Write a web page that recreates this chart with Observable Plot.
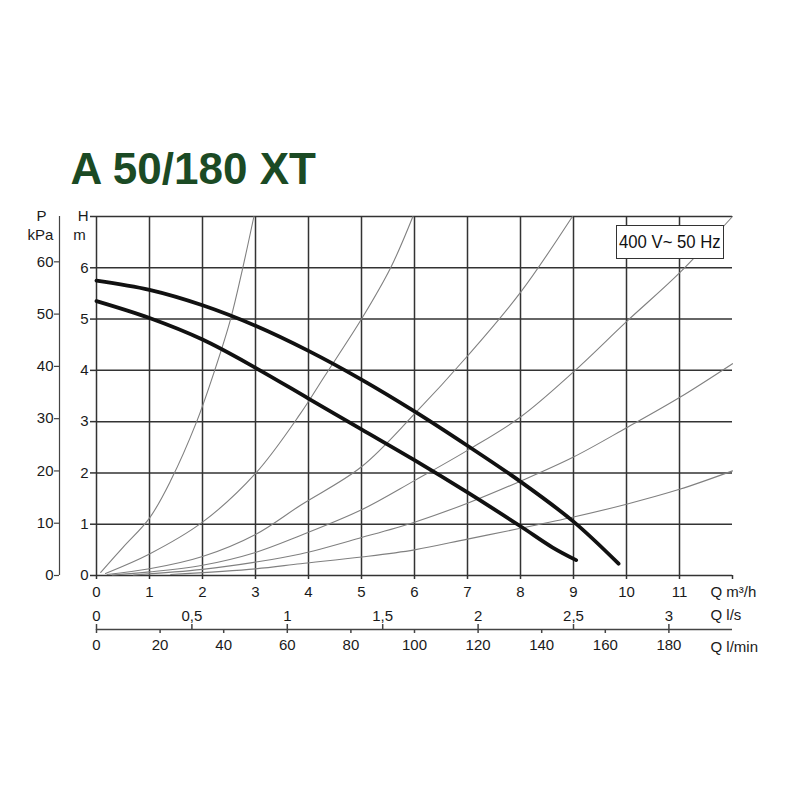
<!DOCTYPE html>
<html>
<head>
<meta charset="utf-8">
<script src="https://cdn.jsdelivr.net/npm/d3@7"></script>
<script src="https://cdn.jsdelivr.net/npm/@observablehq/plot@0.6"></script>
<style>
html,body{margin:0;padding:0;background:#fff;}
#wrap{position:relative;width:800px;height:800px;font-family:"Liberation Sans",Arial,sans-serif;}
#wrap svg{display:block;}
#legend{position:absolute;left:616px;top:225px;width:106px;height:32px;border:1.5px solid #333;background:#fff;display:flex;align-items:center;justify-content:center;}
#legend span{display:inline-block;font-size:19px;transform:scaleX(0.88);color:#111;white-space:nowrap;}
</style>
</head>
<body>
<div id="wrap"><div id="legend"><span id="legendText"></span></div></div>
<script>
// ---- texts ----
const titleText = "A 50/180 XT";
const legendText = "400 V~ 50 Hz";
const qUnitLabel = "Q m³/h";
const lsUnitLabel = "Q l/s";
const lminUnitLabel = "Q l/min";

// ---- ticks ----
const qTicks = [0,1,2,3,4,5,6,7,8,9,10,11,12];
const gridQ = [0,1,2,3,4,5,6,7,8,9,10,11];
const hTicks = [0,1,2,3,4,5,6,7];
const gridH = [0,1,2,3,4,5,6,7];
const pTicks = [0,10,20,30,40,50,60];
const lsTicks = [0,0.5,1,1.5,2,2.5,3];
const lminTicks = [0,20,40,60,80,100,120,140,160,180];

// ---- pump curves [Q m3/h, H m] ----
const pumpMax = [[0,5.75],[1,5.57],[2,5.27],[3,4.87],[4,4.38],[5,3.82],[6,3.2],[7,2.53],[8,1.83],[9,1.05],[9.85,0.23]];
const pumpMin = [[0,5.35],[1,5.02],[2,4.6],[3,4.05],[4,3.45],[5,2.85],[6,2.25],[7,1.62],[8,0.96],[8.6,0.55],[9.05,0.3]];

// ---- system curves [Q m3/h, H m] ----
const sys1 = [[0.08,0.06],[0.5,0.55],[1,1.12],[1.4,1.85],[1.89,3],[2.23,4],[2.53,5],[2.76,6],[2.97,7]];
const sys2 = [[0.17,0.04],[1,0.42],[2,1.04],[3,1.99],[3.85,3.16],[4.3,3.88],[5,5],[5.55,6],[5.97,7]];
const sys3 = [[0.2,0.02],[1,0.13],[2,0.37],[3,0.8],[3.85,1.37],[5,2.12],[6,3.15],[7,4.28],[8,5.52],[8.98,7]];
const sys4 = [[0.3,0.01],[1,0.07],[2,0.2],[3,0.45],[3.85,0.78],[5,1.28],[6,1.85],[7,2.44],[8,3.09],[9,3.97],[10,4.95],[11,5.9],[12,7]];
const sys5 = [[0.7,0.01],[2,0.12],[3,0.26],[3.85,0.42],[5,0.74],[6,1.04],[7,1.41],[8,1.84],[9,2.31],[10,2.88],[11,3.47],[12,4.13]];
const sys6 = [[1.4,0.02],[3,0.13],[3.85,0.23],[5,0.36],[6,0.5],[7,0.71],[8,0.92],[9,1.14],[10,1.39],[11,1.68],[12,2.04]];

const toRows = (name, pts) => pts.map(([q, h]) => ({curve: name, q, h}));
const pumpRows = [...toRows("max", pumpMax), ...toRows("min", pumpMin)];
const sysRows = [
  ...toRows("s1", sys1), ...toRows("s2", sys2), ...toRows("s3", sys3),
  ...toRows("s4", sys4), ...toRows("s5", sys5), ...toRows("s6", sys6)
];

const LS_TO_M3H = 3.6, LMIN_TO_M3H = 0.06, KPA_TO_M = 1 / 9.81;
const gridColor = "#333";
const fontSize = 15;

document.getElementById("legendText").textContent = legendText;

const chart = Plot.plot({
  width: 800,
  height: 800,
  marginLeft: 96,
  marginRight: 68,
  marginTop: 216,
  marginBottom: 225,
  x: {domain: [0, 12]},
  y: {domain: [0, 7]},
  style: {fontFamily: "Liberation Sans, Arial, sans-serif", fontSize: "15px", color: "#1a1a1a", background: "#fff"},
  marks: [
    // grid
    Plot.ruleX(gridQ, {stroke: gridColor, strokeWidth: 1.5}),
    Plot.ruleY(gridH, {stroke: gridColor, strokeWidth: 1.5}),
    // system curves
    Plot.line(sysRows, {x: "q", y: "h", z: "curve", stroke: "#808080", strokeWidth: 1.1, curve: "catmull-rom"}),
    // pump curves
    Plot.line(pumpRows, {x: "q", y: "h", z: "curve", stroke: "#111", strokeWidth: 3.8, curve: "catmull-rom", strokeLinecap: "round"}),
    // primary x axis (m3/h)
    Plot.axisX(qTicks, {anchor: "bottom", tickSize: 4, tickPadding: 7, fontSize, stroke: gridColor, strokeWidth: 1.5,
      tickFormat: d => d === 12 ? "" : String(d), label: null}),
    // secondary axis line
    Plot.ruleY([0], {dy: 54, stroke: "#444", strokeWidth: 1.5}),
    // l/s axis (ticks up)
    Plot.axisX(lsTicks.map(v => v * LS_TO_M3H), {anchor: "top", dy: 413, tickSize: 6, tickPadding: 3, fontSize, stroke: "#444", strokeWidth: 1.5,
      tickFormat: d => String(+(d / LS_TO_M3H).toFixed(2)).replace(".", ","), label: null}),
    // l/min axis (ticks down)
    Plot.axisX(lminTicks.map(v => v * LMIN_TO_M3H), {anchor: "bottom", dy: 54, tickSize: 4, tickPadding: 6, fontSize, stroke: "#444", strokeWidth: 1.5,
      tickFormat: d => String(Math.round(d / LMIN_TO_M3H)), label: null}),
    // H axis
    Plot.axisY(hTicks, {anchor: "left", tickSize: 6, tickPadding: 2, fontSize, stroke: gridColor, strokeWidth: 1.5,
      tickFormat: d => d === 7 ? "H" : String(d), label: null}),
    // P axis
    Plot.ruleX([0], {dx: -37, stroke: "#444", strokeWidth: 1.2}),
    Plot.axisY(pTicks.map(p => p * KPA_TO_M), {anchor: "left", dx: -37, tickSize: 5, tickPadding: 1, fontSize, stroke: "#444", strokeWidth: 1.2,
      tickFormat: d => String(Math.round(d / KPA_TO_M)), label: null}),
    // axis unit labels
    Plot.text(["P"], {frameAnchor: "top-left", dx: -55, dy: 0, textAnchor: "middle", lineAnchor: "middle", fontSize}),
    Plot.text(["kPa"], {frameAnchor: "top-left", dx: -56, dy: 19, textAnchor: "middle", lineAnchor: "middle", fontSize}),
    Plot.text(["m"], {frameAnchor: "top-left", dx: -17, dy: 19, textAnchor: "middle", lineAnchor: "middle", fontSize}),
    Plot.text([qUnitLabel], {frameAnchor: "bottom-right", dx: -22, dy: 17, textAnchor: "start", lineAnchor: "middle", fontSize}),
    Plot.text([lsUnitLabel], {frameAnchor: "bottom-right", dx: -22, dy: 40, textAnchor: "start", lineAnchor: "middle", fontSize}),
    Plot.text([lminUnitLabel], {frameAnchor: "bottom-right", dx: -22, dy: 72, textAnchor: "start", lineAnchor: "middle", fontSize}),
    // title
    Plot.text([titleText], {frameAnchor: "top-left", dx: -26, dy: -33, textAnchor: "start", lineAnchor: "bottom",
      fontSize: 44, fontWeight: "bold", fill: "#1b4a24"})
  ]
});

const wrap = document.getElementById("wrap");
wrap.insertBefore(chart, document.getElementById("legend"));
</script>
</body>
</html>
